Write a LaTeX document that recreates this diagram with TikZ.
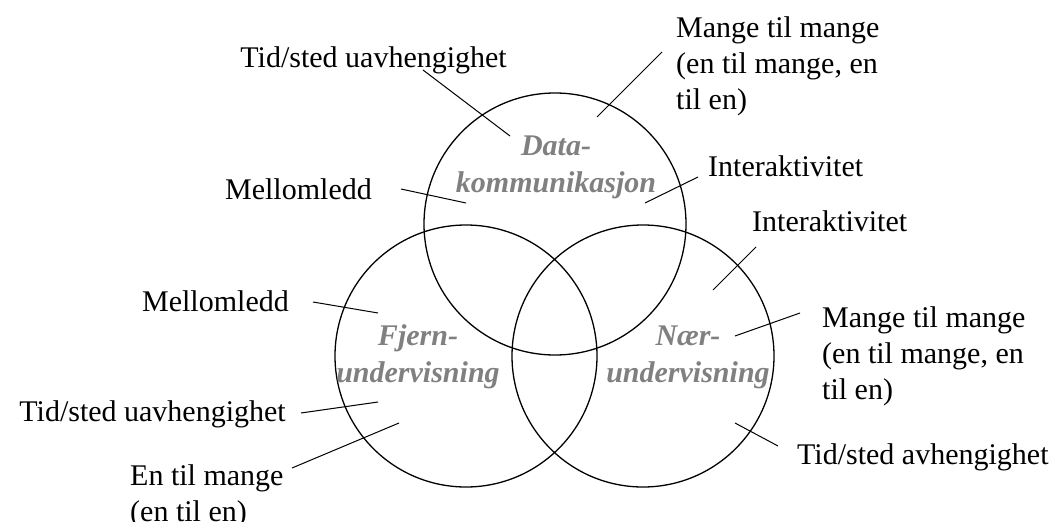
\documentclass[tikz,border=0pt]{standalone}
\usepackage{fontspec}
\setmainfont{Liberation Serif}
\begin{document}
\begin{tikzpicture}[x=1pt,y=-1pt,
  lbl/.style={inner sep=0pt, font=\fontsize{30}{36}\selectfont, align=left},
  area/.style={inner sep=0pt, font=\fontsize{30}{37}\selectfont\bfseries\itshape, text=gray, align=center},
  ring/.style={draw=black, line width=1.3pt, circle, minimum size=262pt, inner sep=0pt},
  lead/.style={draw=black, line width=1pt}]
\useasboundingbox (0,0) rectangle (1058,522);
\fill[white] (0,0) rectangle (1058,522);
% circles
\node[ring] (data) at (555,224) {};
\node[ring] (fjern) at (466,356) {};
\node[ring] (naer) at (643,356) {};
% area titles
\node[area] (tdata) at (556,167) {Data-\\kommunikasjon};
\node[area] (tfjern) at (418,357) {Fjern-\\undervisning};
\node[area] (tnaer) at (688,357) {Nær-\\undervisning};
% labels
\node[lbl, anchor=base east] (l1) at (507,67) {Tid/sted uavhengighet};
\node[lbl, anchor=base east] (l2) at (372,199) {Mellomledd};
\node[lbl, anchor=base west] (l3) at (676,109) {Mange til mange\\(en til mange, en\\til en)};
\node[lbl, anchor=base west] (l4) at (708,176) {Interaktivitet};
\node[lbl, anchor=base west] (l5) at (752,231) {Interaktivitet};
\node[lbl, anchor=base west] (l6) at (822,399) {Mange til mange\\(en til mange, en\\til en)};
\node[lbl, anchor=base west] (l7) at (797,464) {Tid/sted avhengighet};
\node[lbl, anchor=base east] (l8) at (289,311) {Mellomledd};
\node[lbl, anchor=base east] (l9) at (286,421) {Tid/sted uavhengighet};
\node[lbl, anchor=base west] (l10) at (130,521) {En til mange\\(en til en)};
% leader end points
\coordinate (a1) at (423,70);  \coordinate (b1) at (510,136);
\coordinate (a2) at (401,189); \coordinate (b2) at (466,203);
\coordinate (a3) at (662,52);  \coordinate (b3) at (597,117);
\coordinate (a4) at (698,177); \coordinate (b4) at (645,203);
\coordinate (a5) at (756,247); \coordinate (b5) at (713,290);
\coordinate (a6) at (800,313); \coordinate (b6) at (735,336);
\coordinate (a7) at (778,446); \coordinate (b7) at (735,423);
\coordinate (a8) at (313,302); \coordinate (b8) at (378,313);
\coordinate (a9) at (301,413); \coordinate (b9) at (378,402);
\coordinate (a10) at (292,468); \coordinate (b10) at (399,423);
\foreach \i in {1,...,10} { \draw[lead] (a\i) -- (b\i); }
\end{tikzpicture}
\end{document}
